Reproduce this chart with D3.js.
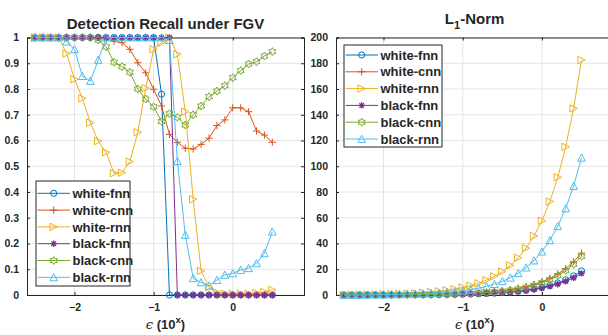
<!DOCTYPE html>
<html>
<head>
<meta charset="utf-8">
<script src="https://cdn.jsdelivr.net/npm/d3@7"></script>
<style>
  body { margin: 0; background: #fff; }
  svg { display: block; }
  text { font-family: "Liberation Sans", Arial, Helvetica, sans-serif; fill: #262626; }
</style>
</head>
<body>
<svg id="chart" width="608" height="335"></svg>
<script>
// Perturbation size exponent (epsilon = 10^x)
const epsExp = [-2.5, -2.4, -2.3, -2.2, -2.1, -2.0, -1.9, -1.8, -1.7, -1.6, -1.5,
                -1.4, -1.3, -1.2, -1.1, -1.0, -0.9, -0.8, -0.7, -0.6, -0.5,
                -0.4, -0.3, -0.2, -0.1, 0.0, 0.1, 0.2, 0.3, 0.4, 0.5];

const seriesNames = ["white-fnn", "white-cnn", "white-rnn", "black-fnn", "black-cnn", "black-rnn"];

// Detection recall under FGV
const recallWhiteFnn = [1, 1, 1, 1, 1, 1, 1, 1, 1, 1, 1, 1, 1, 1, 1, 1, 0.78,
                        0, 0, 0, 0, 0, 0, 0, 0, 0, 0, 0, 0, 0, 0];
const recallWhiteCnn = [1, 1, 1, 1, 1, 1, 1, 1, 1, 0.995, 0.985, 0.98, 0.954, 0.902, 0.863, 0.799,
                        0.734, 0.624, 0.593, 0.570, 0.567, 0.585, 0.609, 0.658, 0.680, 0.727,
                        0.727, 0.712, 0.637, 0.621, 0.593];
const recallWhiteRnn = [1, 1, 1, 1, 0.938, 0.838, 0.764, 0.669, 0.598, 0.554, 0.473, 0.475,
                        0.518, 0.632, 0.803, 0.954, 0.98, 1.0, 0.935, 0.712, 0.372, 0.094,
                        0.03, 0.01, 0.005, 0.005, 0.005, 0.005, 0.008, 0.012, 0.02];
const recallBlackFnn = [1, 1, 1, 1, 1, 1, 1, 1, 1, 1, 1, 1, 1, 1, 1, 1, 1, 1,
                        0, 0, 0, 0, 0, 0, 0, 0, 0, 0, 0, 0, 0];
const recallBlackCnn = [1, 1, 1, 1, 1, 1, 1, 1, 0.99, 0.964, 0.904, 0.887, 0.865, 0.80, 0.761,
                        0.731, 0.674, 0.704, 0.69, 0.66, 0.70, 0.734, 0.770, 0.792, 0.813,
                        0.844, 0.871, 0.897, 0.906, 0.928, 0.945];
const recallBlackRnn = [1, 1, 1, 1, 0.984, 0.954, 0.850, 0.831, 0.913, 1, 1, 1, 1, 1, 1, 1, 1,
                        0.99, 0.52, 0.233, 0.065, 0.049, 0.036, 0.058, 0.078, 0.084, 0.097,
                        0.104, 0.123, 0.162, 0.246];

// L1-norm of the perturbation
const l1WhiteFnn = [0.02, 0.02, 0.03, 0.04, 0.05, 0.06, 0.07, 0.09, 0.12, 0.15, 0.19, 0.23,
                    0.30, 0.37, 0.47, 0.59, 0.74, 0.94, 1.18, 1.48, 1.87, 2.35, 2.96, 3.72,
                    4.69, 5.9, 7.43, 9.35, 11.77, 14.82, 18.66];
const l1WhiteCnn = [0.03, 0.04, 0.05, 0.06, 0.08, 0.10, 0.13, 0.16, 0.21, 0.26, 0.33, 0.41,
                    0.52, 0.65, 0.82, 1.03, 1.30, 1.63, 2.06, 2.59, 3.26, 4.10, 5.16, 6.50,
                    8.18, 10.3, 12.97, 16.32, 20.55, 25.87, 32.57];
const l1WhiteRnn = [0.18, 0.23, 0.29, 0.36, 0.46, 0.58, 0.73, 0.91, 1.15, 1.45, 1.82, 2.30,
                    2.89, 3.64, 4.58, 5.77, 7.26, 9.14, 11.51, 14.49, 18.25, 22.97, 28.92,
                    36.41, 45.83, 57.7, 72.6, 91.4, 115.1, 144.9, 182.5];
const l1BlackFnn = [0.02, 0.02, 0.03, 0.03, 0.04, 0.05, 0.07, 0.08, 0.11, 0.13, 0.17, 0.21,
                    0.27, 0.33, 0.42, 0.53, 0.67, 0.84, 1.06, 1.33, 1.68, 2.11, 2.66, 3.34,
                    4.21, 5.3, 6.67, 8.40, 10.57, 13.31, 16.76];
const l1BlackCnn = [0.03, 0.04, 0.05, 0.06, 0.08, 0.10, 0.12, 0.15, 0.19, 0.24, 0.30, 0.38,
                    0.48, 0.60, 0.75, 0.95, 1.20, 1.51, 1.90, 2.39, 3.00, 3.78, 4.76, 5.99,
                    7.55, 9.5, 11.96, 15.06, 18.95, 23.86, 30.04];
const l1BlackRnn = [0.107, 0.134, 0.169, 0.213, 0.268, 0.337, 0.424, 0.534, 0.672, 0.847,
                    1.066, 1.342, 1.689, 2.126, 2.677, 3.37, 4.243, 5.341, 6.724, 8.465,
                    10.657, 13.416, 16.89, 21.263, 26.769, 33.7, 42.43, 53.41, 67.24,
                    84.65, 106.6];

const recallTicks = [0, 0.1, 0.2, 0.3, 0.4, 0.5, 0.6, 0.7, 0.8, 0.9, 1];
const recallTickLabels = ["0", "0.1", "0.2", "0.3", "0.4", "0.5", "0.6", "0.7", "0.8", "0.9", "1"];
const normTicks = [0, 20, 40, 60, 80, 100, 120, 140, 160, 180, 200];
const expTicks = [-2, -1, 0];

// Styling per series
const colors = ["#0072BD", "#D95319", "#EDB120", "#7E2F8E", "#77AC30", "#4DBEEE"];
const markers = ["o", "+", ">", "*", "h", "^"];

const svg = d3.select("#chart");
const AXIS = "#262626";
const GRID = "#e4e4e4";

function markerPath(type) {
  switch (type) {
    case "o": { const r = 3.1; return `M${r},0A${r},${r} 0 1,1 ${-r},0A${r},${r} 0 1,1 ${r},0Z`; }
    case "+": { const r = 3.6; return `M${-r},0H${r}M0,${-r}V${r}`; }
    case ">": { const r = 3.7; return `M${r},0L${-r},${-r}L${-r},${r}Z`; }
    case "^": { const r = 3.8; return `M0,${-r}L${r},${r * 0.9}L${-r},${r * 0.9}Z`; }
    case "*": { const r = 3.2, k = r * 0.72;
      return `M${-r},0H${r}M0,${-r}V${r}M${-k},${-k}L${k},${k}M${-k},${k}L${k},${-k}`; }
    case "h": {
      const R = 4.0, ri = R * 0.58, pts = [];
      for (let i = 0; i < 12; i++) {
        const a = -Math.PI / 2 + i * Math.PI / 6;
        const rr = i % 2 === 0 ? R : ri;
        pts.push([rr * Math.cos(a), rr * Math.sin(a)]);
      }
      return "M" + pts.map(p => p[0].toFixed(2) + "," + p[1].toFixed(2)).join("L") + "Z";
    }
  }
}

function drawPanel(cfg) {
  const x = d3.scaleLinear().domain([-2.6, 0.9]).range([cfg.left, cfg.right]);
  const y = d3.scaleLinear().domain(cfg.yDomain).range([295, 37.5]);
  const g = svg.append("g");

  // grid
  g.append("g").selectAll("line").data(cfg.yTicks).join("line")
    .attr("x1", cfg.left).attr("x2", cfg.right)
    .attr("y1", d => y(d)).attr("y2", d => y(d))
    .attr("stroke", GRID).attr("stroke-width", 1);
  g.append("g").selectAll("line").data(expTicks).join("line")
    .attr("x1", d => x(d)).attr("x2", d => x(d))
    .attr("y1", 37.5).attr("y2", 295)
    .attr("stroke", GRID).attr("stroke-width", 1);

  // axes (ticks point inward, mirrored on top/right)
  const yAxisL = d3.axisLeft(y).tickValues(cfg.yTicks).tickSize(-3).tickPadding(8)
    .tickFormat((d, i) => cfg.yLabels[i]);
  const xAxisB = d3.axisBottom(x).tickValues(expTicks).tickSize(-3).tickPadding(9)
    .tickFormat(d3.format("d"));
  const yAxisR = d3.axisRight(y).tickValues(cfg.yTicks).tickSize(-3).tickFormat("");
  const xAxisT = d3.axisTop(x).tickValues(expTicks).tickSize(-3).tickFormat("");

  function styleAxis(sel) {
    sel.select(".domain").attr("stroke", AXIS).attr("stroke-width", 1);
    sel.selectAll(".tick line").attr("stroke", AXIS);
    sel.selectAll(".tick text").attr("fill", AXIS)
      .style("font-family", '"Liberation Sans", Arial, sans-serif')
      .style("font-size", "10.5px").style("font-weight", "bold");
  }
  g.append("g").attr("transform", `translate(${cfg.left},0)`).call(yAxisL).call(styleAxis);
  g.append("g").attr("transform", `translate(0,295)`).call(xAxisB).call(styleAxis);
  g.append("g").attr("transform", `translate(${cfg.right},0)`).call(yAxisR).call(styleAxis);
  g.append("g").attr("transform", `translate(0,37.5)`).call(xAxisT).call(styleAxis);

  // series
  const line = d3.line().x((d, i) => x(epsExp[i])).y(d => y(d));
  cfg.series.forEach((vals, s) => {
    const sg = g.append("g");
    sg.append("path").datum(vals).attr("d", line)
      .attr("fill", "none").attr("stroke", colors[s]).attr("stroke-width", 1);
    sg.selectAll("path.m").data(vals).join("path").attr("class", "m")
      .attr("transform", (d, i) => `translate(${x(epsExp[i])},${y(d)})`)
      .attr("d", markerPath(markers[s]))
      .attr("fill", "none").attr("stroke", colors[s])
      .attr("stroke-width", markers[s] === "*" ? 1.3 : 1);
  });

  // legend
  const L = cfg.legend;
  const lg = g.append("g");
  lg.append("rect").attr("x", L.x).attr("y", L.y).attr("width", L.w).attr("height", L.h)
    .attr("fill", "#fff").attr("stroke", AXIS).attr("stroke-width", 1);
  seriesNames.forEach((name, s) => {
    const cy = L.row0 + s * 16.8;
    lg.append("line").attr("x1", L.x + 1.5).attr("x2", L.x + 34).attr("y1", cy).attr("y2", cy)
      .attr("stroke", colors[s]).attr("stroke-width", 1);
    lg.append("path").attr("transform", `translate(${L.x + 17.7},${cy})`)
      .attr("d", markerPath(markers[s])).attr("fill", "none").attr("stroke", colors[s])
      .attr("stroke-width", markers[s] === "*" ? 1.3 : 1);
    lg.append("text").attr("x", L.x + 36.5).attr("y", cy).attr("dy", "0.36em")
      .style("font-size", "13px").style("font-weight", "bold").text(name);
  });

  // x label: epsilon (10^x)
  const xl = g.append("text").attr("x", (cfg.left + cfg.right) / 2).attr("y", 329)
    .attr("text-anchor", "middle").style("font-size", "13px").style("font-weight", "bold");
  xl.append("tspan").style("font-weight", "normal").style("font-family", '"DejaVu Serif", serif')
    .style("font-style", "italic").text("\u03F5");
  xl.append("tspan").text(" (10");
  xl.append("tspan").attr("dy", -6).style("font-size", "9.5px").text("x");
  xl.append("tspan").attr("dy", 6).text(")");

  return g;
}

// Left panel: recall
const left = drawPanel({
  left: 27, right: 304, yDomain: [0, 1], yTicks: recallTicks, yLabels: recallTickLabels,
  series: [recallWhiteFnn, recallWhiteCnn, recallWhiteRnn, recallBlackFnn, recallBlackCnn, recallBlackRnn],
  legend: { x: 36, y: 181, w: 94, h: 105, row0: 193.3 }
});
left.append("text").attr("x", 165.5).attr("y", 28.5).attr("text-anchor", "middle")
  .style("font-size", "15px").style("font-weight", "bold").text("Detection Recall under FGV");

// Right panel: L1-norm
const right = drawPanel({
  left: 336, right: 613.2, yDomain: [0, 200], yTicks: normTicks, yLabels: normTicks.map(String),
  series: [l1WhiteFnn, l1WhiteCnn, l1WhiteRnn, l1BlackFnn, l1BlackCnn, l1BlackRnn],
  legend: { x: 344, y: 45, w: 98, h: 102, row0: 55 }
});
const rt = right.append("text").attr("x", 474.6).attr("y", 23.5).attr("text-anchor", "middle")
  .style("font-size", "15px").style("font-weight", "bold");
rt.append("tspan").text("L");
rt.append("tspan").attr("dy", 5.5).style("font-size", "11px").text("1");
rt.append("tspan").attr("dy", -5.5).text("-Norm");
</script>
</body>
</html>
